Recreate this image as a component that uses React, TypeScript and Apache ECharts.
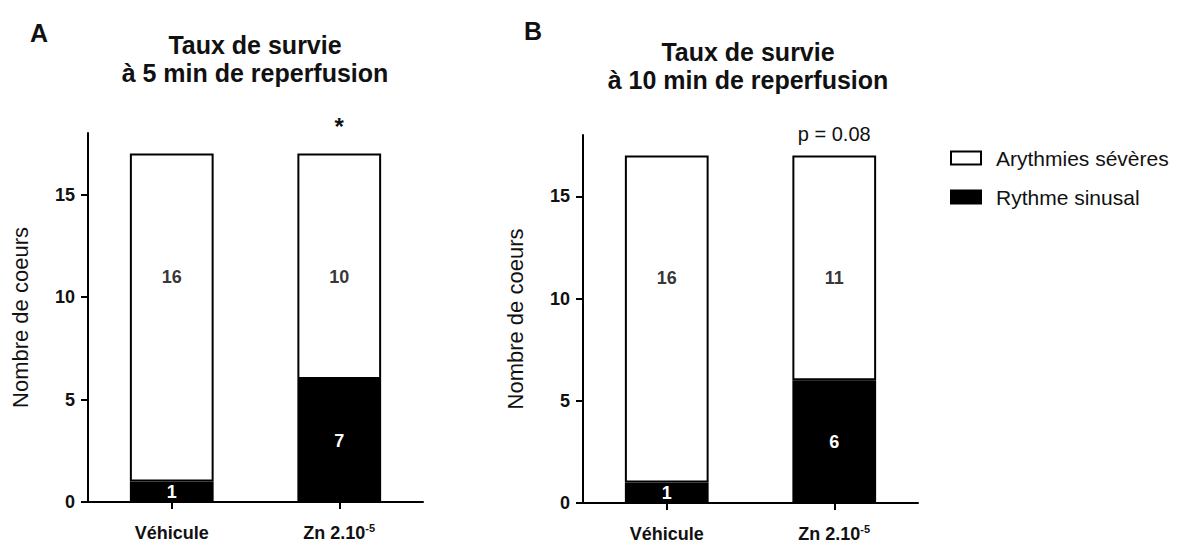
import React, { useEffect, useRef } from "react";
import * as echarts from "echarts";

// ---- data ----
const categories = ["Véhicule", "Zn 2.10-5"];
const yTicks = [0, 5, 10, 15];

// Panel A (5 min) — bar heights as drawn
const sinusA = [1, 6];
const arythA = [16, 11];
const sinusLabelsA = ["1", "7"];
const arythLabelsA = ["16", "10"];
const annotA = ["", "*"];

// Panel B (10 min)
const sinusB = [1, 6];
const arythB = [16, 11];
const sinusLabelsB = ["1", "6"];
const arythLabelsB = ["16", "11"];
const annotB = ["", "p = 0.08"];

// level (in axis units) where the white-segment counts are printed
const countLevel = [11, 11];

const titleA = "Taux de survie\nà 5 min de reperfusion";
const titleB = "Taux de survie\nà 10 min de reperfusion";
const yName = "Nombre de coeurs";
const legendSevere = "Arythmies sévères";
const legendSinus = "Rythme sinusal";

const FONT = "'Liberation Sans', Arial, Helvetica, sans-serif";

function catFormatter(v: string) {
  const m = v.match(/^(.*\.10)(-\d+)$/);
  if (m) return `{n|${m[1]}}{s|${m[2]}}`;
  return `{n|${v}}`;
}

function makeAxes(gridIndex: number) {
  const xAxis = {
    type: "category",
    gridIndex,
    data: categories,
    axisLine: { show: true, lineStyle: { color: "#000", width: 2 } },
    axisTick: { show: true, alignWithLabel: true, length: 7, lineStyle: { color: "#000", width: 2 } },
    axisLabel: {
      margin: 20,
      formatter: catFormatter,
      rich: {
        n: { fontSize: 18, fontWeight: "bold", color: "#111", fontFamily: FONT, lineHeight: 22 },
        s: { fontSize: 11, fontWeight: "bold", color: "#111", fontFamily: FONT, lineHeight: 22, verticalAlign: "top", padding: [0, 0, 6, 0] },
      },
    },
  };
  const yAxis = {
    type: "value",
    gridIndex,
    min: 0,
    max: 18,
    interval: 5,
    name: yName,
    nameLocation: "middle",
    nameGap: 57,
    nameTextStyle: { fontSize: 22, color: "#111", fontFamily: FONT },
    axisLine: { show: true, lineStyle: { color: "#000", width: 2 } },
    axisTick: { show: true, length: 7, lineStyle: { color: "#000", width: 2 }, customValues: yTicks },
    axisLabel: { margin: 13, fontSize: 18, fontWeight: "bold", color: "#111", fontFamily: FONT, customValues: yTicks },
    splitLine: { show: false },
  };
  return { xAxis, yAxis };
}

function makeSeries(
  idx: number,
  sinus: number[],
  aryth: number[],
  sinusLabels: string[],
  arythLabels: string[],
  annot: string[],
  annotStyle: any
) {
  const stack = "s" + idx;
  return [
    {
      name: legendSinus,
      type: "bar",
      xAxisIndex: idx,
      yAxisIndex: idx,
      stack,
      barWidth: "50%",
      data: sinus,
      itemStyle: { color: "#000", borderColor: "#000", borderWidth: 2 },
      label: {
        show: true,
        position: "inside",
        color: "#fff",
        textBorderWidth: 0,
        fontSize: 18,
        fontWeight: "bold",
        fontFamily: FONT,
        formatter: (p: any) => sinusLabels[p.dataIndex],
      },
    },
    {
      name: legendSevere,
      type: "bar",
      xAxisIndex: idx,
      yAxisIndex: idx,
      stack,
      barWidth: "50%",
      data: aryth,
      itemStyle: { color: "#fff", borderColor: "#000", borderWidth: 2 },
      label: {
        show: true,
        position: "top",
        color: "#111",
        fontFamily: FONT,
        ...annotStyle,
        formatter: (p: any) => annot[p.dataIndex],
      },
    },
    {
      type: "scatter",
      xAxisIndex: idx,
      yAxisIndex: idx,
      symbolSize: 0,
      silent: true,
      z: 10,
      itemStyle: { color: "#000" },
      data: countLevel,
      label: {
        show: true,
        position: "inside",
        color: "#000",
        textBorderWidth: 0,
        textBorderColor: "transparent",
        fontSize: 18,
        fontWeight: "bold",
        fontFamily: FONT,
        formatter: (p: any) => arythLabels[p.dataIndex],
      },
    },
  ];
}

export default function App() {
  const ref = useRef<HTMLDivElement>(null);

  useEffect(() => {
    if (!ref.current) return;
    const chart = echarts.init(ref.current, null, { renderer: "svg" });
    const a = makeAxes(0);
    const b = makeAxes(1);
    const option: any = {
      animation: false,
      backgroundColor: "#fff",
      textStyle: { fontFamily: FONT },
      grid: [
        { left: 88, top: 133, width: 335, height: 369 },
        { left: 583, top: 135, width: 335, height: 368 },
      ],
      xAxis: [a.xAxis, b.xAxis],
      yAxis: [a.yAxis, b.yAxis],
      legend: {
        data: [
          { name: legendSevere, icon: "rect" },
          { name: legendSinus, icon: "rect" },
        ],
        orient: "vertical",
        left: 945,
        top: 142,
        itemWidth: 30,
        itemHeight: 13,
        itemGap: 17,
        selectedMode: false,
        itemStyle: { borderColor: "#000", borderWidth: 2 },
        textStyle: { fontSize: 21, color: "#111", fontFamily: FONT, lineHeight: 22, padding: [0, 0, 0, 10] },
      },
      graphic: [
        {
          type: "text",
          x: 39,
          y: 33,
          style: { text: "A", fontSize: 25, fontWeight: "bold", fontFamily: FONT, fill: "#111", align: "center", verticalAlign: "middle" },
        },
        {
          type: "text",
          x: 533,
          y: 31,
          style: { text: "B", fontSize: 25, fontWeight: "bold", fontFamily: FONT, fill: "#111", align: "center", verticalAlign: "middle" },
        },
        {
          type: "text",
          x: 255,
          y: 58.5,
          style: { text: titleA, fontSize: 25, fontWeight: "bold", fontFamily: FONT, fill: "#111", align: "center", verticalAlign: "middle", lineHeight: 28 },
        },
        {
          type: "text",
          x: 748,
          y: 65.5,
          style: { text: titleB, fontSize: 25, fontWeight: "bold", fontFamily: FONT, fill: "#111", align: "center", verticalAlign: "middle", lineHeight: 28 },
        },
      ],
      series: [
        ...makeSeries(0, sinusA, arythA, sinusLabelsA, arythLabelsA, annotA, { fontSize: 24, fontWeight: "bold", distance: 15 }),
        ...makeSeries(1, sinusB, arythB, sinusLabelsB, arythLabelsB, annotB, { fontSize: 20, distance: 11 }),
      ],
    };
    chart.setOption(option);
    return () => chart.dispose();
  }, []);

  return (
    <div
      ref={ref}
      style={{ position: "absolute", left: 0, top: 0, width: 1189, height: 548, background: "#fff" }}
    />
  );
}
